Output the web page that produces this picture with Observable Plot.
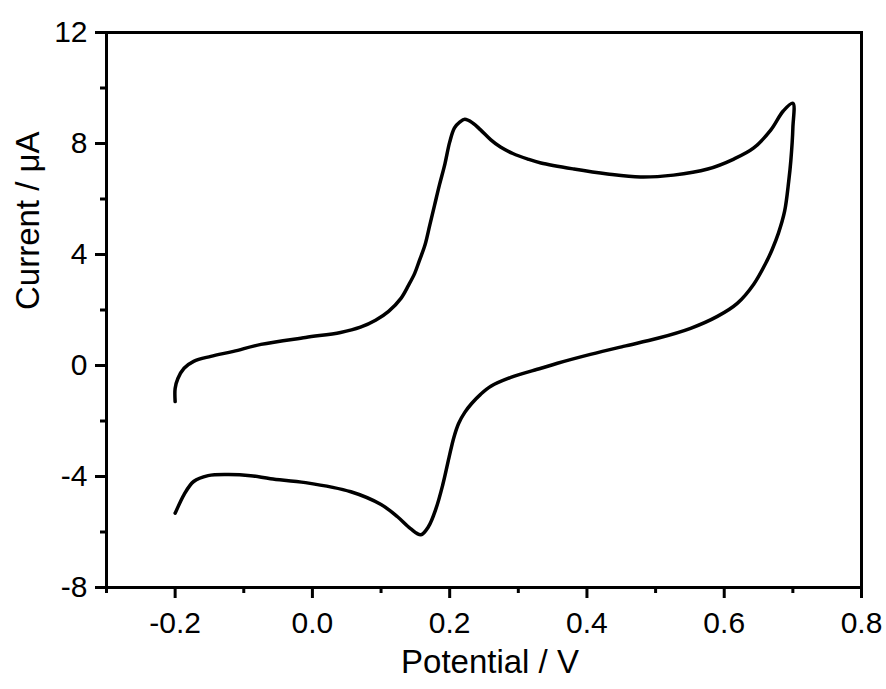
<!DOCTYPE html>
<html>
<head>
<meta charset="utf-8">
<script src="https://cdn.jsdelivr.net/npm/d3@7"></script>
<script src="https://cdn.jsdelivr.net/npm/@observablehq/plot@0.6"></script>
<style>
  html, body { margin: 0; padding: 0; background: #fff; }
  #chart svg { display: block; }
</style>
</head>
<body>
<div id="chart"></div>
<script>
// Cyclic voltammogram, in scan order (forward then reverse)
const potential = [
  -0.200, -0.200, -0.196, -0.187, -0.173, -0.148, -0.115, -0.075, -0.010, 0.041,
  0.070, 0.092, 0.111, 0.129, 0.140, 0.149, 0.156, 0.164, 0.171, 0.178,
  0.185, 0.193, 0.200, 0.207, 0.215, 0.222, 0.2335, 0.245, 0.260, 0.274,
  0.292, 0.314, 0.333, 0.381, 0.430, 0.478, 0.526, 0.576, 0.614, 0.643,
  0.668, 0.686, 0.700,
  0.700, 0.697, 0.694, 0.688, 0.679, 0.670, 0.662, 0.643, 0.619, 0.590,
  0.551, 0.503, 0.453, 0.405, 0.357, 0.333, 0.289, 0.260, 0.245, 0.232,
  0.222, 0.213, 0.206, 0.199, 0.190, 0.180, 0.169, 0.158, 0.143, 0.124,
  0.100, 0.056, -0.010, -0.061, -0.090, -0.123, -0.152, -0.173, -0.187, -0.199,
  -0.200
];
const current = [
  -1.30, -0.83, -0.47, -0.10, 0.15, 0.33, 0.51, 0.76, 1.01, 1.19,
  1.38, 1.63, 1.95, 2.42, 2.89, 3.32, 3.79, 4.34, 5.06, 5.78,
  6.50, 7.26, 8.05, 8.56, 8.78, 8.87, 8.74, 8.49, 8.13, 7.87,
  7.64, 7.44, 7.30, 7.08, 6.90, 6.79, 6.86, 7.08, 7.44, 7.84,
  8.49, 9.17, 9.45,
  8.56, 7.37, 6.65, 5.56, 4.77, 4.19, 3.76, 2.93, 2.24, 1.77,
  1.34, 0.98, 0.69, 0.40, 0.08, -0.10, -0.43, -0.75, -1.04, -1.37,
  -1.69, -2.09, -2.60, -3.32, -4.29, -5.16, -5.81, -6.10, -5.88, -5.45,
  -5.01, -4.55, -4.22, -4.08, -3.97, -3.93, -3.97, -4.18, -4.65, -5.27,
  -5.32
];
const xMajorTicks = [-0.2, 0.0, 0.2, 0.4, 0.6, 0.8];
const xMinorTicks = [-0.3, -0.1, 0.1, 0.3, 0.5, 0.7];
const yMajorTicks = [-8, -4, 0, 4, 8, 12];
const yMinorTicks = [-6, -2, 2, 6, 10];
const xTitle = "Potential / V";
const yTitle = "Current / μA";

const data = potential.map((v, i) => ({v, i: current[i]}));

const chart = Plot.plot({
  width: 886,
  height: 689,
  marginLeft: 106,
  marginRight: 25,
  marginTop: 32,
  marginBottom: 102,
  style: {fontFamily: "'Liberation Sans', Arial, sans-serif", background: "#fff", color: "#000", overflow: "visible"},
  x: {domain: [-0.3, 0.8]},
  y: {domain: [-8, 12]},
  marks: [
    Plot.axisX(xMajorTicks, {tickSize: 11, strokeWidth: 3, tickPadding: 13, fontSize: 30, tickFormat: d => d.toFixed(1), label: null}),
    Plot.axisX(xMinorTicks, {tickSize: 6, strokeWidth: 3, text: null, label: null}),
    Plot.axisY(yMajorTicks, {tickSize: 11, strokeWidth: 3, tickPadding: 8, fontSize: 30, tickFormat: d => String(d), label: null}),
    Plot.axisY(yMinorTicks, {tickSize: 6, strokeWidth: 3, text: null, label: null}),
    Plot.line(data, {x: "v", y: "i", curve: "catmull-rom", stroke: "#000", strokeWidth: 3.5, strokeLinejoin: "round", strokeLinecap: "round"}),
    Plot.frame({stroke: "#000", strokeWidth: 3}),
    Plot.text([xTitle], {frameAnchor: "bottom", dy: 85, dx: 6, fontSize: 33, fill: "#000"}),
    Plot.text([yTitle], {frameAnchor: "left", dx: -78, rotate: -90, fontSize: 33, fill: "#000"})
  ]
});
document.getElementById("chart").appendChild(chart);
</script>
</body>
</html>
